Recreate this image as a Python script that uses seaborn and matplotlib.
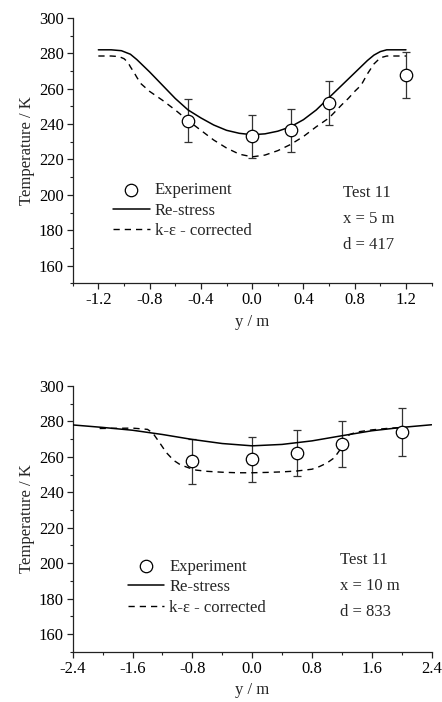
import matplotlib
matplotlib.use("Agg")
from matplotlib import pyplot as plt
import seaborn as sns
import pandas as pd

# ---- top panel: x = 5 m ----
exp1_y = [-0.5, 0.0, 0.3, 0.6, 1.2]
exp1_T = [242, 233, 236.5, 252, 268]
exp1_err = [12, 12, 12, 12.5, 13]

rs1_y = [-1.2, -1.1, -1.02, -0.95, -0.9, -0.8, -0.7, -0.6, -0.5, -0.4, -0.3, -0.2, -0.1,
         0.0, 0.1, 0.2, 0.3, 0.4, 0.5, 0.6, 0.7, 0.8, 0.9, 0.95, 1.0, 1.05, 1.1, 1.2]
rs1_T = [282, 282, 281.5, 279.5, 276.5, 269.5, 262, 254.5, 248, 243.5, 239.5, 236.5, 234.8,
         234, 234.5, 236, 238.5, 242.5, 248, 255, 262, 269, 276, 279, 281, 282, 282, 282]

ke1_y = [-1.2, -1.1, -1.04, -1.0, -0.97, -0.95, -0.92, -0.9, -0.87, -0.8, -0.7, -0.6, -0.5,
         -0.4, -0.3, -0.2, -0.1, 0.0, 0.1, 0.2, 0.3, 0.4, 0.5, 0.6, 0.7, 0.75, 0.8, 0.85,
         0.9, 0.95, 1.0, 1.05, 1.1, 1.2]
ke1_T = [278.5, 278.5, 278.2, 277, 275, 272.4, 269, 266.5, 263, 258.5, 253.5, 248, 242,
         236.5, 231, 226.5, 223, 221.5, 222.5, 225, 228.5, 233, 238.5, 243.5, 251, 254.5, 258.5, 262,
         268.5, 274, 277.5, 278.5, 278.5, 278.5]

# ---- bottom panel: x = 10 m ----
exp2_y = [-0.8, 0.0, 0.6, 1.2, 2.0]
exp2_T = [257.5, 258.5, 262.3, 267.3, 274]
exp2_err = [12.7, 12.8, 13, 13, 13.5]

rs2_y = [-2.4, -2.0, -1.6, -1.2, -0.8, -0.4, 0.0, 0.4, 0.8, 1.2, 1.6, 2.0, 2.4]
rs2_T = [278, 276.6, 275, 272.6, 269.8, 267.5, 266.2, 267, 269, 271.9, 274.7, 276.6, 278.1]

ke2_y = [-2.04, -1.8, -1.6, -1.4, -1.33, -1.28, -1.23, -1.15, -1.05, -0.96, -0.85, -0.75,
         -0.6, -0.4, -0.2, 0.0, 0.2, 0.4, 0.6, 0.8, 0.9, 1.0, 1.1, 1.2, 1.25, 1.3, 1.4,
         1.6, 1.8, 2.0]
ke2_T = [276, 276.1, 276.2, 275.5, 273.5, 270.5, 267.5, 262.5, 258, 255.5, 253.8, 252.5,
         251.8, 251.3, 251, 251, 251.2, 251.5, 252, 253, 254.5, 256.5, 259.5, 265.5, 270, 272.5, 274,
         275.2, 276, 276.6]

sns.set_theme(style="ticks")
plt.rcParams["font.family"] = ["Liberation Serif", "DejaVu Serif"]

fs = 12
ink = "#222222"

fig = plt.figure(figsize=(4.42, 7.02), dpi=100)
ax1 = fig.add_axes([0.1645, 0.5964, 0.812, 0.378])
ax2 = fig.add_axes([0.1645, 0.0717, 0.812, 0.3785])

panels = [
    (ax1, exp1_y, exp1_T, exp1_err, rs1_y, rs1_T, ke1_y, ke1_T, (-1.4, 1.4),
     [-1.2, -0.8, -0.4, 0.0, 0.4, 0.8, 1.2], 0.2, "x = 5 m", "d = 417",
     (0.112, 0.381), (0.752, [0.340, 0.242, 0.144])),
    (ax2, exp2_y, exp2_T, exp2_err, rs2_y, rs2_T, ke2_y, ke2_T, (-2.4, 2.4),
     [-2.4, -1.6, -0.8, 0.0, 0.8, 1.6, 2.4], 0.4, "x = 10 m", "d = 833",
     (0.153, 0.350), (0.746, [0.345, 0.247, 0.150])),
]

for (ax, ey, eT, eerr, ry, rT, ky, kT, xlim, xt, xminor, xtxt, dtxt, legpos, txtpos) in panels:
    rs = pd.DataFrame({"y": ry, "T": rT})
    ke = pd.DataFrame({"y": ky, "T": kT})
    ex = pd.DataFrame({"y": ey, "T": eT})

    ax.errorbar(ey, eT, yerr=eerr, fmt="none", ecolor="#333333", elinewidth=0.9,
                capsize=2.6, capthick=0.9, zorder=2)
    sns.lineplot(data=rs, x="y", y="T", ax=ax, color="black", linewidth=1.1,
                 label="Re-stress", zorder=3)
    sns.lineplot(data=ke, x="y", y="T", ax=ax, color="black", linewidth=1.0,
                 linestyle=(0, (4.5, 3.6)), label="k-ε - corrected", zorder=3)
    sns.scatterplot(data=ex, x="y", y="T", ax=ax, s=80, facecolor="white",
                    edgecolor="black", linewidth=0.9, label="Experiment", zorder=4)

    ax.set_xlim(*xlim)
    ax.set_ylim(150, 300)
    ax.set_xticks(xt)
    ax.set_xticklabels([f"{v:.1f}" for v in xt])
    nminor = int(round((xlim[1] - xlim[0]) / xminor)) + 1
    minors = [xlim[0] + i * xminor for i in range(nminor)]
    ax.set_xticks([v for v in minors if all(abs(v - t) > 1e-6 for t in xt)], minor=True)
    ax.set_yticks([160, 180, 200, 220, 240, 260, 280, 300])
    ax.set_yticks(list(range(150, 300, 10)), minor=True)

    for s in ["top", "right"]:
        ax.spines[s].set_visible(False)
    for s in ["left", "bottom"]:
        ax.spines[s].set_color(ink)
        ax.spines[s].set_linewidth(0.9)
    ax.tick_params(which="major", direction="out", length=4, width=0.9, color=ink,
                   labelsize=fs, pad=2.5, labelcolor="black")
    ax.tick_params(which="minor", direction="out", length=2.2, width=0.8, color=ink)

    ax.set_xlabel("y / m", fontsize=fs, labelpad=4)
    ax.set_ylabel("Temperature / K", fontsize=fs, labelpad=3)

    h, l = ax.get_legend_handles_labels()
    order = [l.index("Experiment"), l.index("Re-stress"), l.index("k-ε - corrected")]
    ax.legend([h[i] for i in order], [l[i] for i in order], loc="upper left",
              bbox_to_anchor=legpos, frameon=False, fontsize=fs, borderpad=0,
              borderaxespad=0, handlelength=2.2, handletextpad=0.3, labelspacing=0.27)

    tx, tys = txtpos
    for txt, ty in zip(["Test 11", xtxt, dtxt], tys):
        ax.text(tx, ty, txt, transform=ax.transAxes, fontsize=fs, va="center", ha="left")

fig.savefig("out.png", dpi=100)
